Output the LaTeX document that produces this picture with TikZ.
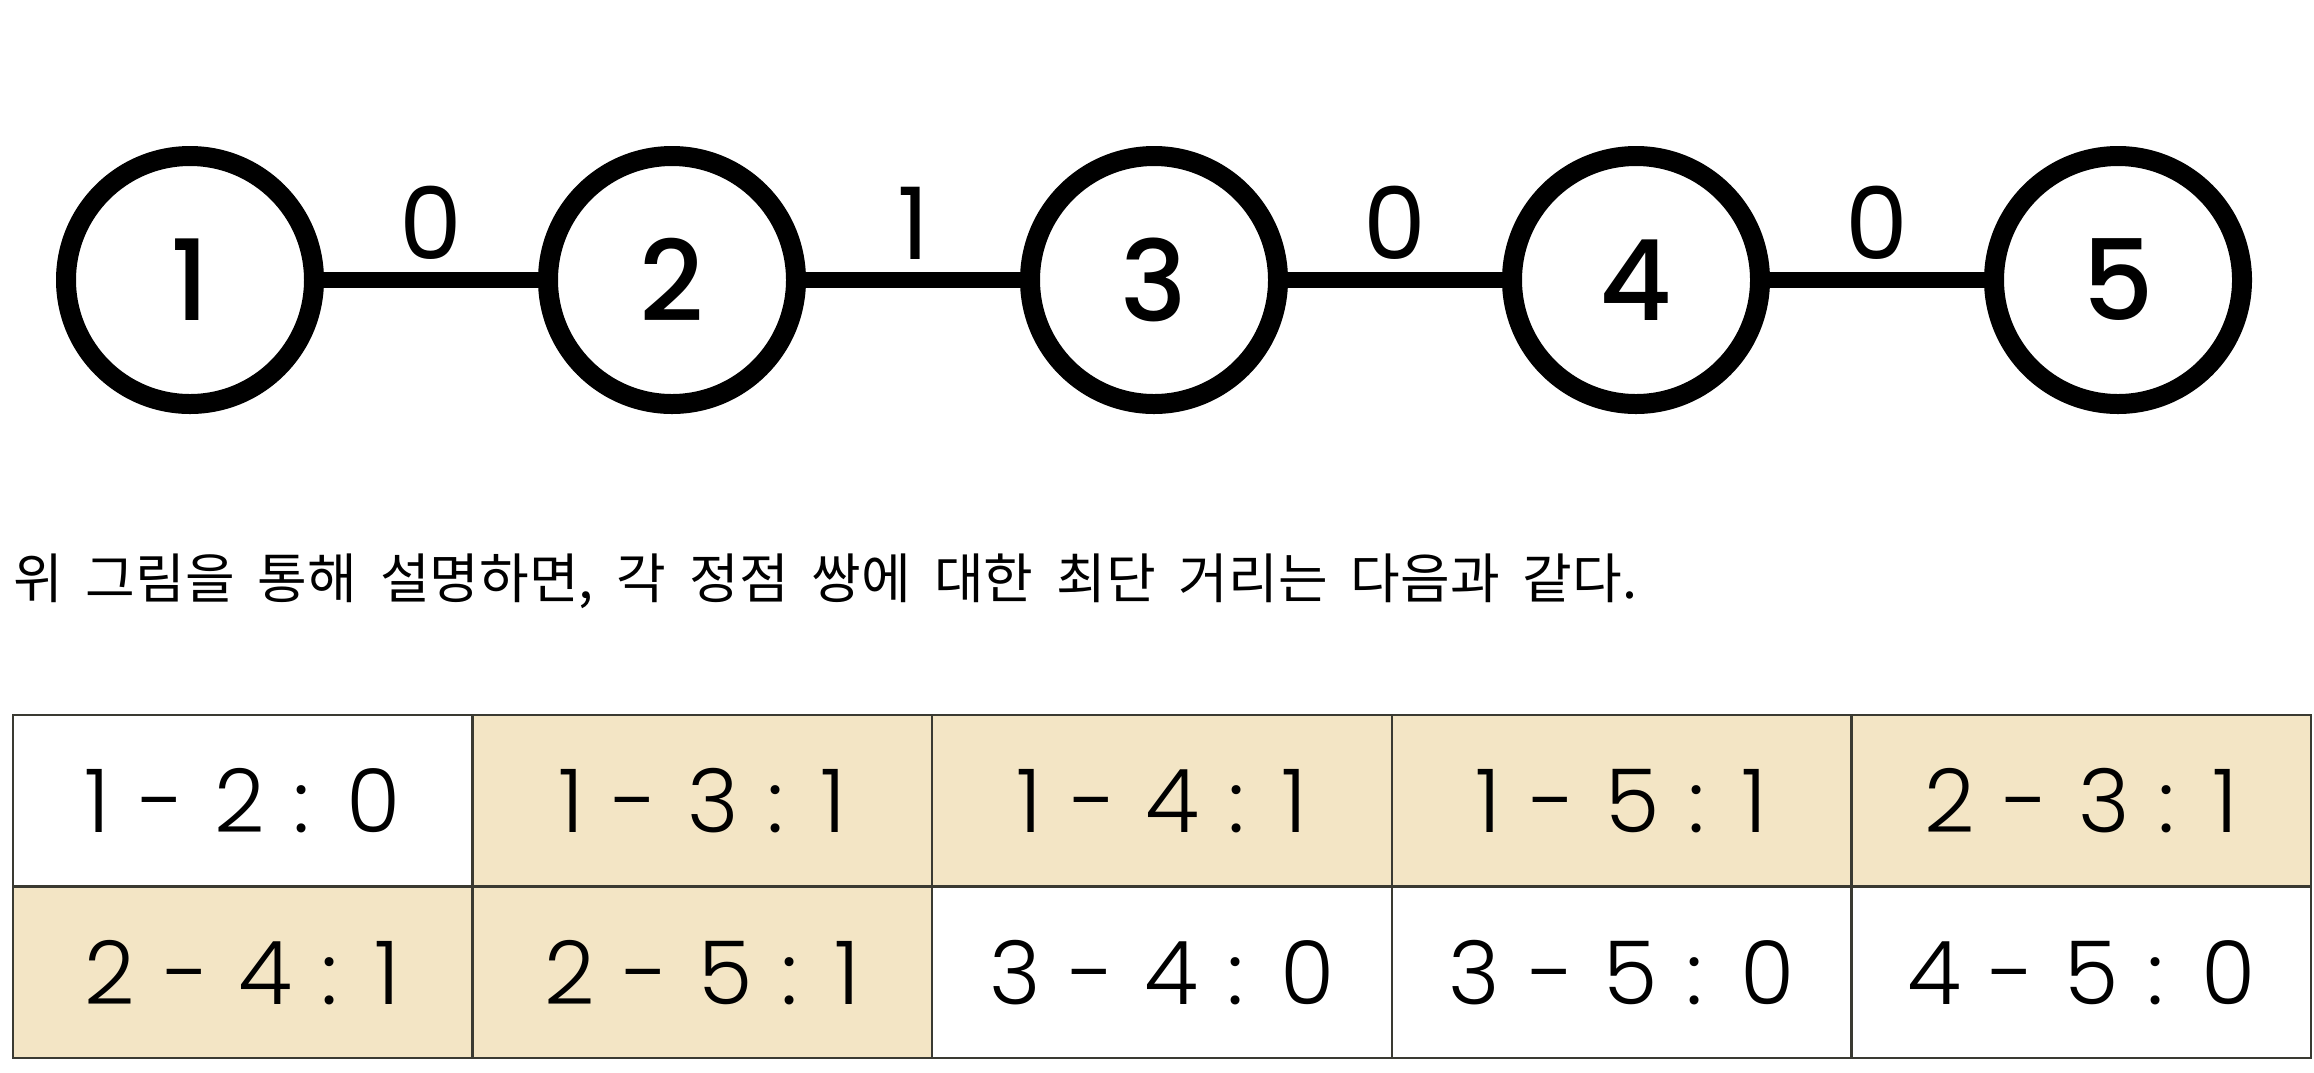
\documentclass[tikz,border=0pt]{standalone}
\usepackage{fontspec}
\usepackage{tikz}
\usetikzlibrary{positioning}
\newfontfamily\hangul{Noto Sans CJK KR}[WordSpace=1.9]
\IfFontExistsTF{Poppins Medium}{\newfontfamily\vertexfont{Poppins Medium}}{\newfontfamily\vertexfont{Poppins}[FakeBold=1]}
\IfFontExistsTF{Poppins Light}{\newfontfamily\cellfont{Poppins Light}[WordSpace=1.2]}{\newfontfamily\cellfont{Poppins}[WordSpace=1.2]}
\newfontfamily\weightfont{Poppins}
\definecolor{pairbeige}{HTML}{F3E5C5}
\definecolor{gridline}{HTML}{3A3A32}

\begin{document}
\begin{tikzpicture}[
      x=1pt, y=-1pt,
      vertex/.style={circle, draw, line width=20pt, minimum size=248pt, inner sep=0, outer sep=0,
        font={\vertexfont\fontsize{112}{112}\selectfont}},
      edge/.style={draw, line width=16pt},
      weight/.style={above=13pt, inner sep=0, font={\weightfont\fontsize{100}{100}\selectfont}},
      cell/.style={rectangle, draw=gridline, line width=2.5pt, minimum width=459.6pt, minimum height=171.5pt,
        inner sep=0, font={\cellfont\fontsize{88}{88}\selectfont}},
      far/.style={cell, fill=pairbeige},
      near/.style={cell, fill=white}
  ]
  \useasboundingbox (0,0) rectangle (2314,1072);

  % the path graph
  \begin{scope}[node distance=482pt, on grid]
    \node[vertex] (v1) at (190,280) {1};
    \node[vertex, right=of v1] (v2) {2};
    \node[vertex, right=of v2] (v3) {3};
    \node[vertex, right=of v3] (v4) {4};
    \node[vertex, right=of v4] (v5) {5};
  \end{scope}
  \draw[edge] (v1) -- node[weight] {0} (v2);
  \draw[edge] (v2) -- node[weight] {1} (v3);
  \draw[edge] (v3) -- node[weight] {0} (v4);
  \draw[edge] (v4) -- node[weight] {0} (v5);

  \node[anchor=base west, inner sep=0, font={\hangul\fontsize{54}{54}\selectfont}] (caption) at (13,598)
    {위 그림을 통해 설명하면, 각 정점 쌍에 대한 최단 거리는 다음과 같다.};

  % table of pair distances
  \begin{scope}[node distance=171.5pt and 459.6pt, on grid]
    \node[near] (c12) at (242.8,800.75) {1 - 2 : 0};
    \node[far, right=of c12] (c13) {1 - 3 : 1};
    \node[far, right=of c13] (c14) {1 - 4 : 1};
    \node[far, right=of c14] (c15) {1 - 5 : 1};
    \node[far, right=of c15] (c23) {2 - 3 : 1};
    \node[far, below=of c12] (c24) {2 - 4 : 1};
    \node[far, right=of c24] (c25) {2 - 5 : 1};
    \node[near, right=of c25] (c34) {3 - 4 : 0};
    \node[near, right=of c34] (c35) {3 - 5 : 0};
    \node[near, right=of c35] (c45) {4 - 5 : 0};
  \end{scope}

\end{tikzpicture}
\end{document}
